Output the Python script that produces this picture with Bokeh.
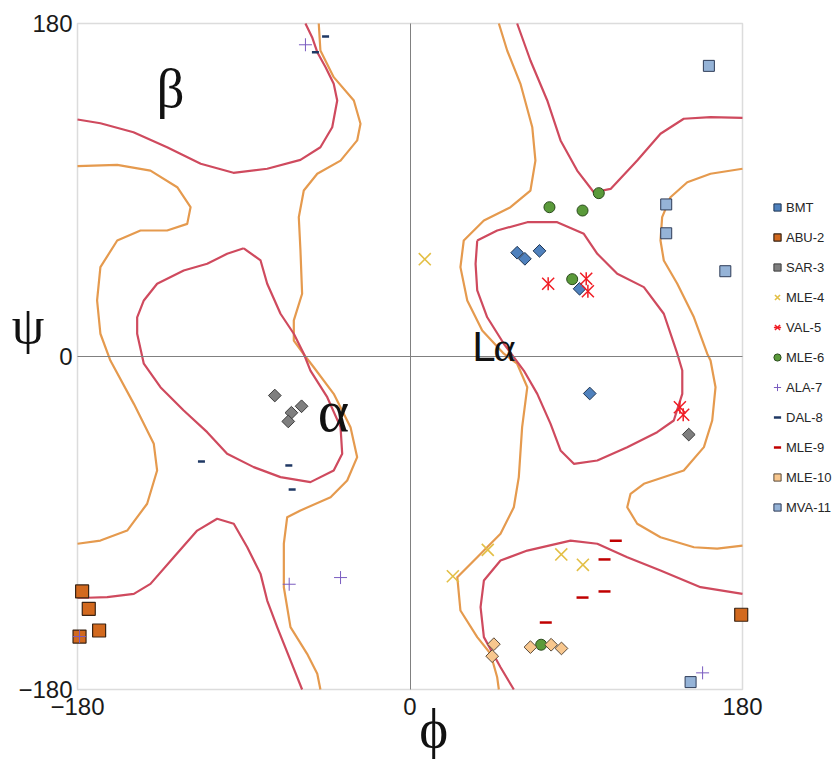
from bokeh.plotting import figure
from bokeh.models import (ColumnDataSource, Range1d, FixedTicker, Label,
                          Legend, LegendItem, BoxAnnotation, LinearAxis)
from bokeh.embed import file_html
from bokeh.resources import INLINE
import math

# ---------------- residue data (phi, psi) ----------------
bmt_phi = [58.0, 62.2, 70.1, 91.8, 97.3]
bmt_psi = [56.1, 52.8, 57.1, 36.6, -20.0]
abu2_phi = [-177.5, -173.9, -168.3, -178.9, 179.3]
abu2_psi = [-127.0, -136.4, -148.1, -151.4, -139.6]
sar3_phi = [-73.2, -58.7, -64.2, -65.9, 150.9]
sar3_psi = [-21.1, -26.9, -30.4, -35.1, -42.2]
mle4_phi = [8.0, 42.1, 23.2, 81.9, 93.6]
mle4_psi = [52.6, -104.5, -118.8, -107.0, -112.6]
val5_phi = [74.8, 95.4, 96.3, 146.1, 147.9]
val5_psi = [39.3, 42.0, 35.3, -27.4, -31.5]
mle6_phi = [75.5, 93.4, 102.2, 87.8, 71.0]
mle6_psi = [80.7, 78.9, 88.3, 41.8, -155.8]
ala7_phi = [-56.6, -65.4, -37.6, 158.4, -178.9]
ala7_psi = [168.5, -123.1, -119.5, -171.0, -151.4]
dal8_phi = [-45.7, -51.2, -112.9, -65.6, -63.8]
dal8_psi = [173.0, 164.5, -56.8, -58.9, -71.9]
mle9_phi = [111.4, 105.3, 105.3, 93.4, 73.5]
mle9_psi = [-99.6, -109.7, -127.0, -130.3, -143.8]
mle10_phi = [45.4, 44.5, 65.2, 76.4, 82.0]
mle10_psi = [-155.5, -162.0, -157.1, -155.8, -157.8]
mva11_phi = [161.8, 138.7, 138.7, 170.7, 151.9]
mva11_psi = [157.1, 82.2, 66.6, 46.1, -176.0]

# ---------------- contour lines (phi, psi) ----------------
red_beta_phi = [-180, -167.6, -149.7, -131.5, -113.3, -95.6, -77.3, -59.3, -48.5,
                -42.1, -39.4, -41.3, -45.7, -50.2, -53.0, -56.6]
red_beta_psi = [128.1, 126.1, 121.2, 113.1, 104.2, 99.3, 101.5, 106.3, 113.1,
                123.9, 138.4, 147.4, 156.4, 164.5, 172.6, 180]

orange_left_phi = [-180, -158.5, -140.5, -126.0, -118.8, -120.6, -131.5, -145.9, -158.5,
                   -167.6, -169.4, -167.6, -162.2, -149.5, -138.7, -136.9, -142.3,
                   -153.1, -167.6, -180]
orange_left_psi = [102.9, 103.6, 100.5, 91.5, 80.7, 71.7, 68.1, 68.1, 62.7,
                   48.3, 30.3, 12.3, -2.2, -25.6, -47.2, -61.6, -79.6,
                   -94.1, -99.5, -101.2]

red_alpha_phi = [-90.0, -80.9, -77.3, -70.1, -62.9, -57.5, -53.9, -44.8, -37.6, -36.7,
                 -41.3, -53.9, -70.1, -84.6, -99.0, -109.8, -122.5, -135.1, -144.1,
                 -147.7, -147.7, -144.1, -136.9, -122.5, -109.8, -99.0, -90.0]
red_alpha_psi = [58.5, 51.9, 39.3, 23.1, 12.3, 1.5, -7.6, -22.0, -38.2, -52.6,
                 -61.6, -67.9, -65.2, -59.8, -52.6, -40.9, -29.2, -16.6, -3.9,
                 12.3, 21.2, 30.3, 39.3, 46.5, 50.1, 55.5, 58.5]

orange_mid_phi = [-49.4, -48.5, -41.3, -30.4, -26.8, -28.6, -37.6, -50.2, -57.5, -60.2,
                  -59.3, -58.4, -62.9, -62.9, -56.6, -52.1, -41.3, -32.2, -28.6, -34.0,
                  -43.0, -59.3, -66.5, -68.3, -68.3, -64.7, -55.7, -50.2, -48.5]
orange_mid_psi = [180, 165.4, 151.0, 138.4, 125.8, 116.8, 105.9, 98.8, 89.7, 75.3,
                  57.3, 33.9, 19.5, 8.6, 0.0, -5.8, -20.2, -38.2, -54.4, -67.0,
                  -76.1, -83.2, -86.9, -101.2, -124.7, -146.3, -160.7, -171.5, -180]

red_bl_phi = [-180, -174.8, -163.9, -149.5, -140.5, -127.9, -115.2, -104.4, -95.4,
              -88.1, -80.9, -77.3, -71.9, -64.7, -58.4]
red_bl_psi = [-130.4, -130.4, -130.1, -128.3, -122.9, -108.5, -94.1, -87.7, -90.4,
              -103.1, -117.5, -131.9, -146.3, -164.3, -180]

orange_right_phi = [48.1, 52.6, 59.8, 66.2, 67.9, 65.2, 54.4, 40.0, 29.1, 27.3, 31.0,
                    39.1, 50.8, 58.0, 63.5, 60.7, 58.9, 56.2, 49.0, 36.4, 25.6, 27.3,
                    36.4, 43.6, 47.2, 48.1]
orange_right_psi = [180, 165.4, 147.4, 123.9, 105.9, 89.7, 80.7, 73.5, 62.7, 48.3, 30.3,
                    14.1, 1.5, -3.9, -16.6, -38.2, -65.2, -81.5, -95.8, -108.5, -119.3,
                    -137.3, -151.7, -160.7, -173.4, -180]

red_tr_phi = [58.0, 65.2, 74.3, 81.5, 90.5, 99.5, 108.6, 123.0, 135.6, 148.2, 162.7, 180]
red_tr_psi = [180, 160.0, 138.4, 116.8, 100.5, 88.8, 90.6, 105.9, 120.4, 128.5, 129.4, 129.0]

orange_rr_phi = [180, 162.7, 150.1, 141.0, 136.5, 135.6, 137.4, 144.7, 153.7, 160.9,
                 162.7, 165.4, 163.6, 159.1, 148.2, 126.6, 119.4, 117.6, 123.0, 135.6,
                 153.7, 166.3, 180]
orange_rr_psi = [101.5, 98.8, 94.2, 86.1, 75.3, 62.7, 51.9, 39.3, 21.2, 1.5,
                 -2.2, -16.6, -34.6, -49.0, -61.6, -68.8, -74.2, -81.5, -90.4, -97.7,
                 -103.1, -103.9, -102.2]

red_la_phi = [36.4, 35.5, 36.4, 41.8, 50.8, 61.6, 68.9, 76.1, 81.5, 88.7, 101.4, 117.6,
              133.8, 142.8, 147.4, 147.4, 144.7, 137.4, 126.6, 112.2, 101.4, 94.1, 79.7,
              63.5, 47.2, 36.4]
red_la_psi = [62.7, 50.1, 35.7, 21.2, 6.9, -7.6, -20.2, -36.4, -50.8, -58.0, -56.2, -49.0,
              -40.9, -34.6, -20.2, -7.6, 1.5, 23.1, 37.5, 44.7, 55.5, 66.3, 72.6,
              72.6, 68.1, 62.7]

red_br_phi = [56.2, 49.0, 40.0, 38.2, 40.0, 49.0, 63.5, 86.9, 101.4, 117.6, 135.6, 157.3, 180]
red_br_psi = [-180, -168.0, -151.7, -135.5, -121.1, -110.3, -104.9, -99.5, -101.2,
              -108.5, -115.7, -124.7, -128.3]

axis_ticks = [-180, 0, 180]
axis_bounds = (-180, 180)

RED = "#cf4a5e"
ORANGE = "#e59a4e"

# frame covers the whole canvas; the -180..180 box sits at px 77..742 / 23..689
XS = 665 / 360.0
YS = 666 / 360.0
p = figure(width=838, height=765, output_backend="svg", toolbar_location=None,
           x_range=Range1d(-180 - 77 / XS, 180 + 96 / XS),
           y_range=Range1d(-180 - 76 / YS, 180 + 23 / YS),
           min_border=0)
p.background_fill_color = "white"
p.border_fill_color = "white"
p.outline_line_color = None
p.grid.visible = False

for ax in (p.xaxis, p.yaxis):
    ax.fixed_location = axis_bounds[0]
    ax.ticker = FixedTicker(ticks=axis_ticks)
    ax.axis_line_color = None
    ax.major_tick_line_color = None
    ax.minor_tick_line_color = None
    ax.major_tick_out = 0
    ax.major_tick_in = 0
    ax.minor_tick_out = 0
    ax.minor_tick_in = 0
    ax.major_label_text_font = "Liberation Sans"
    ax.major_label_text_font_size = "24px"
    ax.major_label_text_color = "#1a1a1a"
p.xaxis.major_label_standoff = 8
p.yaxis.major_label_standoff = 5

# zero lines drawn as bounded axes through the origin
for side in ("below", "left"):
    zax = LinearAxis(fixed_location=0, bounds=axis_bounds,
                     ticker=FixedTicker(ticks=[]),
                     axis_line_color="#808080", axis_line_width=1,
                     major_tick_line_color=None, minor_tick_line_color=None,
                     major_label_text_font_size="0px")
    p.add_layout(zax, side)

p.add_layout(BoxAnnotation(left=axis_bounds[0], right=axis_bounds[1],
                           bottom=axis_bounds[0], top=axis_bounds[1],
                           fill_alpha=0, line_color="#8a8a8a", line_width=1.5,
                           level="underlay"))

contours = [
    (orange_left_phi, orange_left_psi, ORANGE),
    (orange_mid_phi, orange_mid_psi, ORANGE),
    (orange_right_phi, orange_right_psi, ORANGE),
    (orange_rr_phi, orange_rr_psi, ORANGE),
    (red_beta_phi, red_beta_psi, RED),
    (red_alpha_phi, red_alpha_psi, RED),
    (red_bl_phi, red_bl_psi, RED),
    (red_tr_phi, red_tr_psi, RED),
    (red_la_phi, red_la_psi, RED),
    (red_br_phi, red_br_psi, RED),
]
for xs, ys, c in contours:
    p.line(xs, ys, line_color=c, line_width=2.2, line_join="round")

TXT = "#111111"
# region labels
p.add_layout(Label(x=-129.7, y=144.8, text="β", text_font="Liberation Serif",
                   text_font_size="55px", text_align="center",
                   text_baseline="alphabetic", text_color=TXT))
p.add_layout(Label(x=-41.4, y=-29.2, text="α", text_font="Liberation Serif",
                   text_font_size="60px", text_align="center",
                   text_baseline="alphabetic", text_color=TXT))
p.add_layout(Label(x=33.7, y=5.4, text="L", text_font="Liberation Sans",
                   text_font_size="42px", text_align="left",
                   text_baseline="alphabetic", text_color=TXT))
p.add_layout(Label(x=45.2, y=5.4, text="α", text_font="Liberation Serif",
                   text_font_size="42px", text_align="left",
                   text_baseline="alphabetic", text_color=TXT))
# axis symbols
p.add_layout(Label(x=-206.8, y=17.0, text="ψ", text_font="Liberation Serif",
                   text_font_size="52px", text_align="center",
                   text_baseline="alphabetic", text_color=TXT))
p.add_layout(Label(x=12.9, y=-201.0, text="\u03d5", text_font="Liberation Serif",
                   text_font_size="55px", text_align="center",
                   text_baseline="alphabetic", text_color=TXT))

rad45 = math.pi / 4
series = [
    ("BMT", bmt_phi, bmt_psi, [dict(marker="square", size=9, angle=rad45,
                                    fill_color="#4f81bd", line_color="#1e3553", line_width=1)]),
    ("ABU-2", abu2_phi, abu2_psi, [dict(marker="square", size=13,
                                        fill_color="#d2691e", line_color="#3a2414", line_width=1.2)]),
    ("SAR-3", sar3_phi, sar3_psi, [dict(marker="square", size=9, angle=rad45,
                                        fill_color="#7f7f7f", line_color="#3c3c3c", line_width=1)]),
    ("MLE-4", mle4_phi, mle4_psi, [dict(marker="x", size=17,
                                        line_color="#e3bf45", line_width=1.6)]),
    ("VAL-5", val5_phi, val5_psi, [dict(marker="x", size=17,
                                        line_color="#f01c24", line_width=1.5),
                                   dict(marker="dash", size=13, angle=math.pi / 2,
                                        line_color="#f01c24", line_width=1.5)]),
    ("MLE-6", mle6_phi, mle6_psi, [dict(marker="circle", size=11,
                                        fill_color="#5a9a3a", line_color="#2a4a1c", line_width=1)]),
    ("ALA-7", ala7_phi, ala7_psi, [dict(marker="cross", size=13,
                                        line_color="#7a5cc0", line_width=1)]),
    ("DAL-8", dal8_phi, dal8_psi, [dict(marker="dash", size=7,
                                        line_color="#1f3864", line_width=2.5)]),
    ("MLE-9", mle9_phi, mle9_psi, [dict(marker="dash", size=12,
                                        line_color="#c00000", line_width=2.5)]),
    ("MLE-10", mle10_phi, mle10_psi, [dict(marker="square", size=9, angle=rad45,
                                           fill_color="#f8c78e", line_color="#5a4a3a", line_width=1)]),
    ("MVA-11", mva11_phi, mva11_psi, [dict(marker="square", size=11,
                                           fill_color="#95b3d7", line_color="#2e3c58", line_width=1)]),
]

items = []
for name, xs, ys, styles in series:
    src = ColumnDataSource(data=dict(phi=xs, psi=ys))
    rs = [p.scatter("phi", "psi", source=src, **st) for st in styles]
    items.append(LegendItem(label=name, renderers=rs))

legend = Legend(items=items, location=(768, 248), glyph_width=18, glyph_height=20,
                label_height=20, spacing=10, padding=0, margin=0, label_standoff=0,
                label_text_font="Liberation Sans", label_text_font_size="13px",
                label_text_color="#262626", border_line_color=None,
                background_fill_alpha=0)
p.add_layout(legend)

open("out.html", "w").write(file_html(p, INLINE))
